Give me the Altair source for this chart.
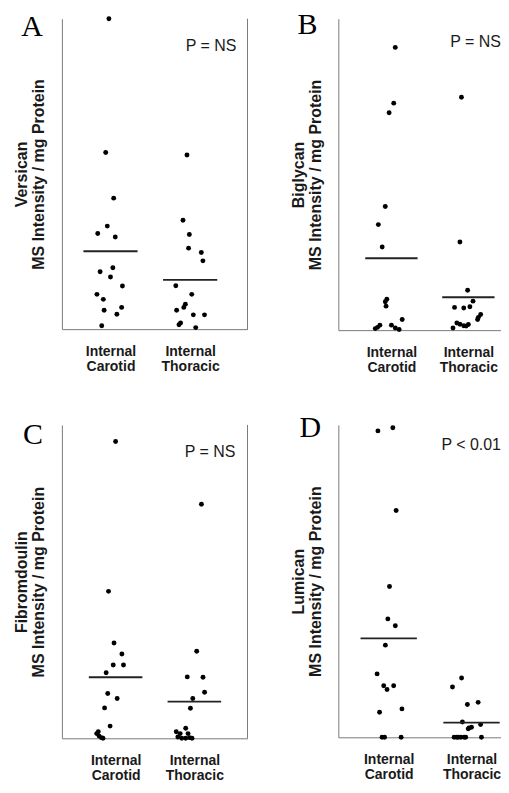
import altair as alt
import pandas as pd

groups = ["Internal Carotid", "Internal Thoracic"]
y_subtitle = "MS Intensity / mg Protein"

# Panel A - Versican
a_car_v = [100, 56.9, 42.2, 33.2, 30.8, 29.7, 18.5, 19.8, 16.8, 13.9, 11.2, 9.6, 7.0, 6.1, 4.8, 1.1]
a_car_j = [-0.02, -0.06, 0.04, -0.04, -0.16, 0.06, -0.13, 0.03, 0.0, 0.15, -0.17, -0.09, 0.14, -0.08, 0.08, -0.11]
a_tho_v = [56.1, 35.1, 30.5, 26.1, 24.7, 22.0, 14.0, 11.2, 8.0, 7.0, 6.1, 4.6, 4.6, 2.0, 1.4, 0.5]
a_tho_j = [-0.04, -0.09, -0.01, -0.02, 0.14, 0.16, -0.18, 0.02, -0.06, -0.08, -0.17, 0.04, 0.18, -0.12, -0.14, 0.07]

# Panel B - Biglycan
b_car_v = [90.8, 72.9, 69.8, 39.7, 33.9, 26.7, 9.9, 9.1, 7.7, 3.4, 1.6, 0.9, 0.5, 1.6, 0.7, 0.2]
b_car_j = [0.05, 0.03, -0.03, -0.08, -0.17, -0.12, -0.06, -0.08, -0.07, 0.14, -0.15, -0.18, -0.21, 0.0, 0.05, 0.10]
b_tho_v = [74.8, 28.3, 12.8, 9.3, 7.3, 7.1, 7.5, 5.0, 4.1, 3.4, 2.3, 1.9, 1.4, 1.8, 0.7, 1.3]
b_tho_j = [-0.09, -0.11, -0.01, 0.06, -0.18, -0.06, 0.02, 0.16, 0.13, 0.12, -0.15, -0.11, -0.06, 0.0, -0.20, -0.03]

# Panel C - Fibromdoulin
c_car_v = [94.7, 46.9, 30.4, 26.9, 23.4, 23.4, 20.9, 14.3, 12.7, 9.7, 3.9, 2.1, 1.5, 0.7, 0.2, 0]
c_car_j = [0.0, -0.09, -0.02, 0.08, -0.03, 0.10, -0.12, -0.10, 0.02, -0.14, -0.07, -0.22, -0.24, -0.21, -0.18, -0.16]
c_tho_v = [74.7, 27.8, 19.6, 19.5, 14.7, 12.7, 9.6, 3.2, 2.1, 1.5, 1.5, 0.4, 0, 0, 0.2, 0]
c_tho_j = [0.09, 0.03, -0.09, 0.11, 0.13, -0.02, -0.05, -0.11, -0.23, -0.18, -0.08, -0.21, -0.16, -0.11, -0.06, -0.03]

# Panel D - Lumican
d_car_v = [98.1, 99.1, 72.6, 48.3, 37.9, 35.7, 29.5, 20.3, 16.5, 16.5, 15.3, 9.1, 8.0, 0, 0, 0]
d_car_j = [-0.13, 0.05, 0.09, 0.01, -0.01, 0.08, -0.04, -0.14, -0.06, 0.06, -0.02, 0.16, -0.11, -0.08, 0.15, -0.05]
d_tho_v = [19.0, 16.1, 10.5, 11.2, 4.9, 4.1, 3.0, 3.2, 2.7, 0, 0, 0, 0, 0, 0, 0]
d_tho_j = [-0.12, -0.23, -0.05, 0.08, -0.11, 0.11, -0.03, 0.0, -0.04, -0.21, -0.18, -0.13, -0.07, 0.12, -0.16, -0.09]

SANS = "Liberation Sans"
SERIF = "Liberation Serif"
AXIS_GREY = "#7a7a7a"
INK = "#1a1a1a"


def panel(letter, protein, ptext, car_v, car_j, tho_v, tho_j, W, H, xdom,
          letter_xy, p_xy, p_align, right_line):
    df = pd.DataFrame({
        "g": [1] * len(car_v) + [2] * len(tho_v),
        "v": car_v + tho_v,
        "j": car_j + tho_j,
    })
    x_scale = alt.Scale(domain=xdom, nice=False, zero=False)
    y_scale = alt.Scale(domain=[0, 100], nice=False)
    base = alt.Chart(df)
    pts = base.transform_calculate(xx="datum.g + datum.j").mark_point(
        filled=True, size=24, color="black", opacity=1
    ).encode(
        x=alt.X("xx:Q", scale=x_scale, title=None,
                axis=alt.Axis(values=[1, 2],
                              labelExpr="datum.value == 1 ? ['Internal', 'Carotid'] : ['Internal', 'Thoracic']")),
        y=alt.Y("v:Q", scale=y_scale, title=[protein, y_subtitle]),
    )
    mean = base.transform_aggregate(m="mean(v)", groupby=["g"]).transform_calculate(
        x1="datum.g - 0.34", x2="datum.g + 0.34"
    ).mark_rule(color="#222222", strokeWidth=1.8).encode(
        x=alt.X("x1:Q", scale=x_scale), x2="x2:Q", y=alt.Y("m:Q", scale=y_scale)
    )
    one = pd.DataFrame({"t": [letter]})
    let = alt.Chart(one).mark_text(font=SERIF, fontSize=30, color="black",
                                   align="center", baseline="alphabetic").encode(
        text="t:N", x=alt.value(letter_xy[0]), y=alt.value(letter_xy[1]))
    pt = alt.Chart(pd.DataFrame({"t": [ptext]})).mark_text(
        font=SANS, fontSize=16, color=INK, align=p_align, baseline="middle").encode(
        text="t:N", x=alt.value(p_xy[0]), y=alt.value(p_xy[1]))
    layers = [pts, mean, let, pt]
    if right_line:
        rl = alt.Chart(one).mark_rule(color=AXIS_GREY, strokeWidth=1).encode(
            x=alt.value(W), y=alt.value(0), y2=alt.value(H))
        layers.append(rl)
    return alt.layer(*layers).properties(width=W, height=H)


A = panel("A", "Versican", "P = NS", a_car_v, a_car_j, a_tho_v, a_tho_j,
          186, 311, [0.39, 2.72], (-30, 17), (124, 27), "left", True)
B = panel("B", "Biglycan", "P = NS", b_car_v, b_car_j, b_tho_v, b_tho_j,
          163, 312, [0.31, 2.424], (-31, 15), (163, 23), "right", False)
C = panel("C", "Fibromdoulin", "P = NS", c_car_v, c_car_j, c_tho_v, c_tho_j,
          186, 314, [0.318, 2.675], (-29, 19), (123, 27), "left", True)
D = panel("D", "Lumican", "P < 0.01", d_car_v, d_car_j, d_tho_v, d_tho_j,
          163, 313, [0.392, 2.356], (-28, 12), (163, 20), "right", False)

chart = alt.vconcat(
    alt.hconcat(A, B, spacing=42),
    alt.hconcat(C, D, spacing=42),
    spacing=39,
).properties(
    padding={"left": 6, "top": 1, "right": 0, "bottom": 0}
).configure_view(stroke=None).configure_axis(
    domainColor=AXIS_GREY, domainWidth=1, ticks=False, grid=False,
    labelFont=SANS, labelFontSize=14, labelFontWeight="bold", labelColor=INK,
    titleFont=SANS, titleFontSize=16, titleFontWeight="bold", titleColor=INK,
).configure_axisY(
    labels=False, titlePadding=15, titleLineHeight=17,
).configure_axisX(
    labelPadding=15, labelLineHeight=15, labelAngle=0,
)

chart.save("out.html", embed_options={"renderer": "svg", "actions": False})
